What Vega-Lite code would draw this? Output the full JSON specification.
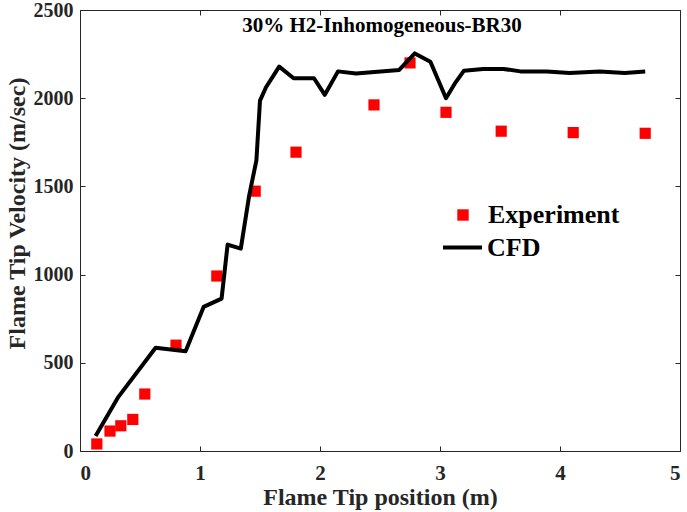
{
  "$schema": "https://vega.github.io/schema/vega-lite/v6.json",
  "width": 600,
  "height": 441,
  "autosize": {"type": "none"},
  "padding": {"left": 80, "top": 10, "right": 7, "bottom": 61},
  "background": "white",
  "config": {
    "font": "Liberation Serif",
    "view": {"stroke": "#262626", "strokeWidth": 1},
    "axis": {
      "labelFont": "Liberation Serif",
      "labelFontWeight": "bold",
      "labelFontSize": 21,
      "labelColor": "#262626",
      "titleFont": "Liberation Serif",
      "titleFontWeight": "bold",
      "titleFontSize": 24,
      "titleColor": "#262626",
      "grid": false,
      "domain": false,
      "tickColor": "#262626",
      "tickSize": -5,
      "tickWidth": 1
    },
    "legend": {
      "labelFont": "Liberation Serif",
      "labelFontWeight": "bold",
      "labelFontSize": 26,
      "labelColor": "black",
      "padding": 0,
      "offset": 0
    }
  },
  "title": {
    "text": "30% H2-Inhomogeneous-BR30",
    "font": "Liberation Serif",
    "fontWeight": "bold",
    "fontSize": 21,
    "color": "black",
    "anchor": "middle",
    "baseline": "alphabetic",
    "offset": -53,
    "dx": 2
  },
  "datasets": {
    "exp": [
      {"series": "Experiment", "x": 0.14, "v": 40},
      {"series": "Experiment", "x": 0.25, "v": 113},
      {"series": "Experiment", "x": 0.34, "v": 143},
      {"series": "Experiment", "x": 0.44, "v": 179},
      {"series": "Experiment", "x": 0.54, "v": 323},
      {"series": "Experiment", "x": 0.80, "v": 600},
      {"series": "Experiment", "x": 1.14, "v": 992},
      {"series": "Experiment", "x": 1.46, "v": 1473},
      {"series": "Experiment", "x": 1.80, "v": 1694},
      {"series": "Experiment", "x": 2.45, "v": 1962},
      {"series": "Experiment", "x": 2.75, "v": 2200},
      {"series": "Experiment", "x": 3.05, "v": 1920},
      {"series": "Experiment", "x": 3.51, "v": 1813},
      {"series": "Experiment", "x": 4.11, "v": 1805},
      {"series": "Experiment", "x": 4.71, "v": 1801}
    ],
    "cfd": [
      {"series": "CFD", "x": 0.13, "v": 85},
      {"series": "CFD", "x": 0.32, "v": 307},
      {"series": "CFD", "x": 0.63, "v": 585},
      {"series": "CFD", "x": 0.88, "v": 566},
      {"series": "CFD", "x": 1.03, "v": 817},
      {"series": "CFD", "x": 1.18, "v": 864},
      {"series": "CFD", "x": 1.23, "v": 1170},
      {"series": "CFD", "x": 1.34, "v": 1147},
      {"series": "CFD", "x": 1.41, "v": 1449},
      {"series": "CFD", "x": 1.47, "v": 1647},
      {"series": "CFD", "x": 1.50, "v": 1986},
      {"series": "CFD", "x": 1.55, "v": 2062},
      {"series": "CFD", "x": 1.66, "v": 2179},
      {"series": "CFD", "x": 1.78, "v": 2113},
      {"series": "CFD", "x": 1.95, "v": 2113},
      {"series": "CFD", "x": 2.04, "v": 2019},
      {"series": "CFD", "x": 2.15, "v": 2152},
      {"series": "CFD", "x": 2.30, "v": 2140},
      {"series": "CFD", "x": 2.66, "v": 2160},
      {"series": "CFD", "x": 2.79, "v": 2254},
      {"series": "CFD", "x": 2.92, "v": 2207},
      {"series": "CFD", "x": 3.05, "v": 2000},
      {"series": "CFD", "x": 3.13, "v": 2090},
      {"series": "CFD", "x": 3.20, "v": 2156},
      {"series": "CFD", "x": 3.36, "v": 2166},
      {"series": "CFD", "x": 3.53, "v": 2166},
      {"series": "CFD", "x": 3.67, "v": 2152},
      {"series": "CFD", "x": 3.89, "v": 2152},
      {"series": "CFD", "x": 4.08, "v": 2143},
      {"series": "CFD", "x": 4.33, "v": 2152},
      {"series": "CFD", "x": 4.54, "v": 2143},
      {"series": "CFD", "x": 4.71, "v": 2152}
    ]
  },
  "layer": [
    {
      "data": {"name": "exp"},
      "mark": {"type": "point", "shape": "square", "filled": true, "size": 125, "opacity": 1, "strokeWidth": 0},
      "encoding": {
        "x": {
          "field": "x", "type": "quantitative",
          "scale": {"domain": [0, 5], "nice": false, "zero": false},
          "axis": {"orient": "bottom", "values": [0, 1, 2, 3, 4, 5], "title": "Flame Tip position (m)", "labelPadding": 16, "titleBaseline": "alphabetic", "titleY": 53, "format": "d"}
        },
        "y": {
          "field": "v", "type": "quantitative",
          "scale": {"domain": [0, 2500], "nice": false},
          "axis": {"orient": "left", "values": [0, 500, 1000, 1500, 2000, 2500], "title": "Flame Tip Velocity (m/sec)", "labelPadding": 12, "labelFontSize": 20, "titleBaseline": "alphabetic", "titleX": -56, "titleY": 203, "format": "d"}
        },
        "fill": {
          "field": "series", "type": "nominal",
          "scale": {"domain": ["Experiment"], "range": ["#FF0000"]},
          "legend": {"orient": "none", "legendX": 370, "legendY": 192, "title": null, "symbolType": "square", "symbolSize": 130, "symbolStrokeWidth": 0, "labelOffset": 12}
        }
      }
    },
    {
      "data": {"name": "cfd"},
      "mark": {"type": "line", "strokeWidth": 4, "strokeJoin": "round"},
      "encoding": {
        "x": {
          "field": "x", "type": "quantitative",
          "axis": {"orient": "top", "values": [0, 1, 2, 3, 4, 5], "labels": false, "title": null}
        },
        "y": {
          "field": "v", "type": "quantitative",
          "axis": {"orient": "right", "values": [0, 500, 1000, 1500, 2000, 2500], "labels": false, "title": null}
        },
        "stroke": {
          "field": "series", "type": "nominal",
          "scale": {"domain": ["CFD"], "range": ["black"]},
          "legend": {"orient": "none", "legendX": 361, "legendY": 216, "title": null, "symbolType": "stroke", "symbolSize": 1521, "symbolStrokeWidth": 4, "labelOffset": 3}
        }
      }
    }
  ],
  "resolve": {"axis": {"x": "independent", "y": "independent"}}
}
